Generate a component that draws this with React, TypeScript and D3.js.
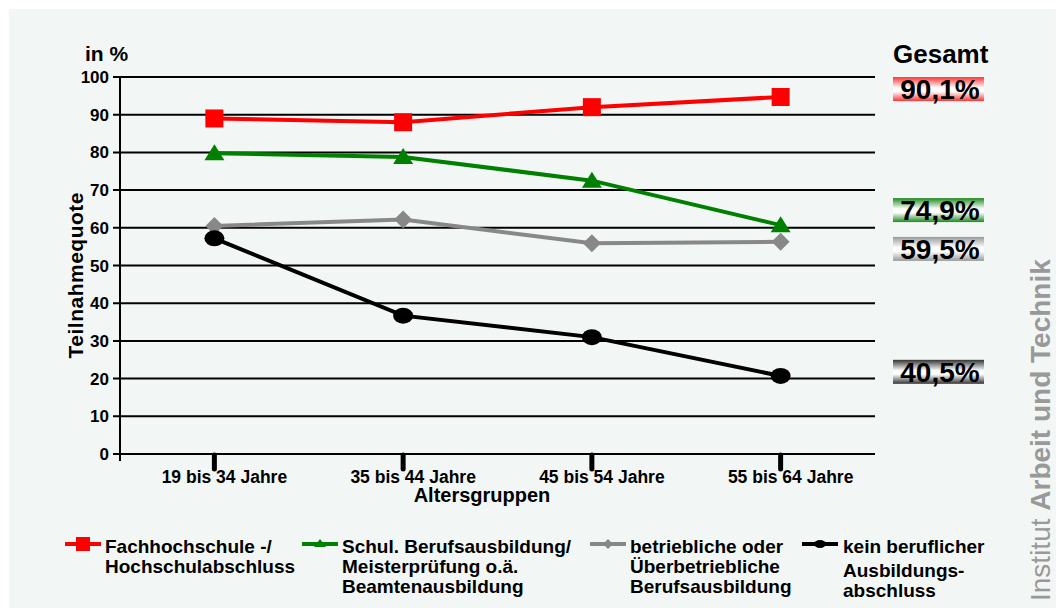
import { scaleBand, scaleLinear, line } from "d3";

const categories = ["19 bis 34 Jahre", "35 bis 44 Jahre", "45 bis 54 Jahre", "55 bis 64 Jahre"];
const hochschule = [89, 88, 92, 94.7];
const schulisch = [79.8, 78.8, 72.5, 60.7];
const betrieblich = [60.5, 62.2, 55.9, 56.3];
const keinAbschluss = [57.2, 36.7, 31, 20.7];
const yTicks = [0, 10, 20, 30, 40, 50, 60, 70, 80, 90, 100];
const gesamtLabels = ["90,1%", "74,9%", "59,5%", "40,5%"];
// where the "Gesamt" boxes sit, in axis units
const gesamtPos = [96.8, 64.7, 54.4, 21.8];

type Series = {
  name: string[];
  values: number[];
  color: string;
  marker: "square" | "triangle" | "diamond" | "circle";
  band: [string, string];
};

const series: Series[] = [
  { name: ["Fachhochschule -/", "Hochschulabschluss"], values: hochschule, color: "#ff0000", marker: "square", band: ["#ff3333", "#ffffff"] },
  { name: ["Schul. Berufsausbildung/", "Meisterprüfung o.ä.", "Beamtenausbildung"], values: schulisch, color: "#008000", marker: "triangle", band: ["#1f8a1f", "#ffffff"] },
  { name: ["betriebliche oder", "Überbetriebliche", "Berufsausbildung"], values: betrieblich, color: "#888888", marker: "diamond", band: ["#999999", "#ffffff"] },
  { name: ["kein beruflicher", "Ausbildungs-", "abschluss"], values: keinAbschluss, color: "#000000", marker: "circle", band: ["#333333", "#ffffff"] },
];

const legendX = [65, 302, 590, 802];

function Marker({ kind, x, y, color, s = 9 }: { kind: Series["marker"]; x: number; y: number; color: string; s?: number }) {
  if (kind === "square") return <rect x={x - s} y={y - s} width={s * 2} height={s * 2} fill={color} />;
  if (kind === "triangle")
    return <polygon points={`${x},${y - s} ${x + s + 1},${y + s - 2} ${x - s - 1},${y + s - 2}`} fill={color} />;
  if (kind === "diamond")
    return <polygon points={`${x},${y - s} ${x + s},${y} ${x},${y + s} ${x - s},${y}`} fill={color} />;
  return <ellipse cx={x} cy={y} rx={s + 1} ry={s - 1} fill={color} />;
}

export default function App() {
  const font = "'Liberation Sans', Arial, sans-serif";
  const x = scaleBand<string>().domain(categories).range([120, 875]);
  const y = scaleLinear().domain([0, 100]).range([454, 77]);
  const cx = (c: string) => (x(c) ?? 0) + x.bandwidth() / 2;

  return (
    <svg width={1057} height={608} style={{ position: "absolute", left: 0, top: 0 }} fontFamily={font}>
      <defs>
        {series.map((s, i) => (
          <linearGradient key={i} id={`band${i}`} x1="0" y1="0" x2="0" y2="1">
            <stop offset="0" stopColor={s.band[0]} />
            <stop offset="0.45" stopColor={s.band[1]} />
            <stop offset="0.6" stopColor={s.band[1]} />
            <stop offset="1" stopColor={s.band[0]} />
          </linearGradient>
        ))}
      </defs>
      <rect x={0} y={0} width={1057} height={608} fill="#ffffff" />
      <rect x={9} y={9} width={1047} height={599} fill="#f2f7f6" />

      {/* grid */}
      {yTicks.map((t) => (
        <g key={t}>
          <line x1={113} x2={875} y1={y(t)} y2={y(t)} stroke="#000" strokeWidth={2} />
          <text x={109} y={y(t) + 6} textAnchor="end" fontSize={17} fontWeight="bold">
            {t}
          </text>
        </g>
      ))}
      <line x1={120} x2={120} y1={y(100)} y2={y(0) + 7} stroke="#000" strokeWidth={2} />

      {categories.map((c) => (
        <g key={c}>
          <line x1={cx(c)} x2={cx(c)} y1={y(0) + 1} y2={y(0) + 15} stroke="#000" strokeWidth={5} strokeLinecap="round" />
          <text x={cx(c) + 10} y={y(0) + 29} textAnchor="middle" fontSize={17.5} fontWeight="bold">
            {c}
          </text>
        </g>
      ))}
      <text x={482} y={502} textAnchor="middle" fontSize={20} fontWeight="bold">
        Altersgruppen
      </text>
      <text transform={`translate(83,${y(50) + 10}) rotate(-90)`} textAnchor="middle" fontSize={21} fontWeight="bold" textLength={166} lengthAdjust="spacing">
        Teilnahmequote
      </text>
      <text x={85} y={61} fontSize={21} fontWeight="bold">
        in %
      </text>

      {/* series */}
      {series.map((s, i) => {
        const pts = s.values.map((v, j) => [cx(categories[j]), y(v)] as [number, number]);
        return (
          <g key={i}>
            <path d={line()(pts) ?? ""} fill="none" stroke={s.color} strokeWidth={4} />
            {pts.map(([px, py], j) => (
              <Marker key={j} kind={s.marker} x={px} y={py} color={s.color} />
            ))}
          </g>
        );
      })}

      {/* Gesamt */}
      <text x={893} y={63} fontSize={26} fontWeight="bold">
        Gesamt
      </text>
      {gesamtLabels.map((g, i) => (
        <g key={g}>
          <rect x={893} y={y(gesamtPos[i]) - 12} width={91} height={24} fill={`url(#band${i})`} />
          <text x={940} y={y(gesamtPos[i]) + 10} textAnchor="middle" fontSize={28} fontWeight="bold">
            {g}
          </text>
        </g>
      ))}

      {/* legend */}
      {series.map((s, i) => (
        <g key={i}>
          <line x1={legendX[i]} x2={legendX[i] + 36} y1={544} y2={544} stroke={s.color} strokeWidth={4} />
          <Marker kind={s.marker} x={legendX[i] + 18} y={544} color={s.color} s={i === 0 ? 7 : 5} />
          {s.name.map((n, k) => (
            <text key={k} x={legendX[i] + (i === 3 ? 41 : 40)} y={553 + k * 20 + (i === 3 && k > 0 ? 4 : 0)} fontSize={19} fontWeight="bold">
              {n}
            </text>
          ))}
        </g>
      ))}

      <text transform="translate(1050,601) rotate(-90)" fontSize={28} fill="#999999">
        Institut <tspan fontWeight="bold">Arbeit und Technik</tspan>
      </text>
    </svg>
  );
}
